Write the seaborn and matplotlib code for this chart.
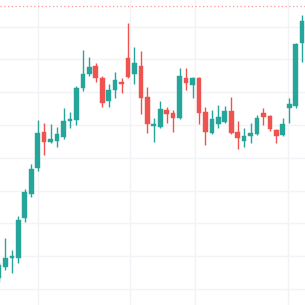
import numpy as np
import pandas as pd
import matplotlib
matplotlib.use("Agg")
import matplotlib.pyplot as plt
import seaborn as sns

# OHLC values
opens  = [101.7, 103.4, 104.7, 104.7, 110.8, 114.5, 118.5, 123.9, 122.4, 122.6,
          123.2, 125.6, 125.8, 130.6, 132.8, 134.0, 132.2, 128.7, 130.3, 131.6,
          135.2, 132.8, 134.0, 129.3, 124.9, 124.7, 127.3, 126.8, 126.1, 132.2,
          131.1, 132.2, 127.0, 123.8, 125.2, 125.5, 127.1, 123.9, 122.6, 123.3,
          123.6, 126.8, 126.4, 124.2, 123.5, 127.6, 127.9, 137.5]
highs  = [104.1, 107.8, 106.0, 111.1, 115.2, 119.1, 125.8, 125.3, 125.2, 124.7,
          127.6, 127.0, 131.0, 136.4, 135.4, 134.5, 132.5, 131.3, 133.1, 132.2,
          140.6, 136.9, 136.3, 130.8, 126.1, 128.7, 127.7, 127.3, 133.7, 133.7,
          132.3, 132.3, 127.7, 127.3, 128.1, 127.9, 129.3, 125.6, 124.5, 125.3,
          126.5, 127.6, 126.5, 124.4, 126.1, 129.1, 137.5, 141.8]
lows   = [101.1, 102.9, 102.4, 104.0, 110.2, 114.0, 118.0, 120.4, 122.3, 121.7,
          122.9, 124.5, 125.0, 130.2, 132.5, 131.6, 127.7, 127.7, 129.1, 129.9,
          132.2, 131.3, 126.7, 123.8, 122.4, 124.5, 125.3, 123.9, 125.9, 130.3,
          129.1, 125.2, 122.0, 123.6, 124.5, 125.3, 123.6, 121.3, 121.7, 122.3,
          123.5, 125.0, 124.1, 122.3, 123.3, 125.3, 127.6, 134.6]
closes = [103.7, 104.7, 105.0, 110.5, 114.8, 118.3, 123.8, 122.4, 122.9, 123.6,
          125.6, 125.9, 130.6, 132.8, 133.8, 132.2, 128.4, 130.3, 131.9, 131.3,
          132.3, 134.5, 129.1, 125.2, 125.0, 127.4, 126.7, 126.1, 132.5, 131.4,
          132.2, 126.8, 123.9, 125.9, 126.2, 127.1, 123.8, 123.0, 123.3, 123.8,
          126.1, 126.2, 124.4, 123.3, 125.2, 128.2, 137.4, 140.9]
marker_price = 143.2

df = pd.DataFrame({"open": opens, "high": highs, "low": lows, "close": closes})
df["idx"] = np.arange(len(df))
df["up"] = df["close"] >= df["open"]

sns.set_style("white")
fig = plt.figure(figsize=(3.05, 3.05), dpi=100)
ax = fig.add_axes([0, 0, 1, 1])

green = "#26a69a"
red = "#ef5350"
colors = [green if u else red for u in df["up"]]

ax.vlines(df["idx"], df["low"], df["high"], colors=colors, linewidth=1.0, zorder=3)
bottoms = np.minimum(df["open"], df["close"])
heights = np.maximum(np.abs(df["close"] - df["open"]), 0.18)
ax.bar(df["idx"], heights, bottom=bottoms, width=0.72, color=colors,
       edgecolor=colors, linewidth=0.3, zorder=4)

ax.axhline(marker_price, color=red, linestyle=(0, (1, 2)), linewidth=0.9, alpha=0.6, zorder=2)

ax.set_xlim(0.155, 47.44)
ax.set_ylim(97.56, 144.05)
ax.set_yticks(np.arange(100, 145, 5))
ax.set_xticks([6, 20.3, 30.4, 44.8])
ax.grid(True, color="#f2f3f6", linewidth=1.0, zorder=0)
ax.tick_params(left=False, bottom=False, labelleft=False, labelbottom=False)
for s in ax.spines.values():
    s.set_visible(False)

fig.savefig("out.png", dpi=100)
